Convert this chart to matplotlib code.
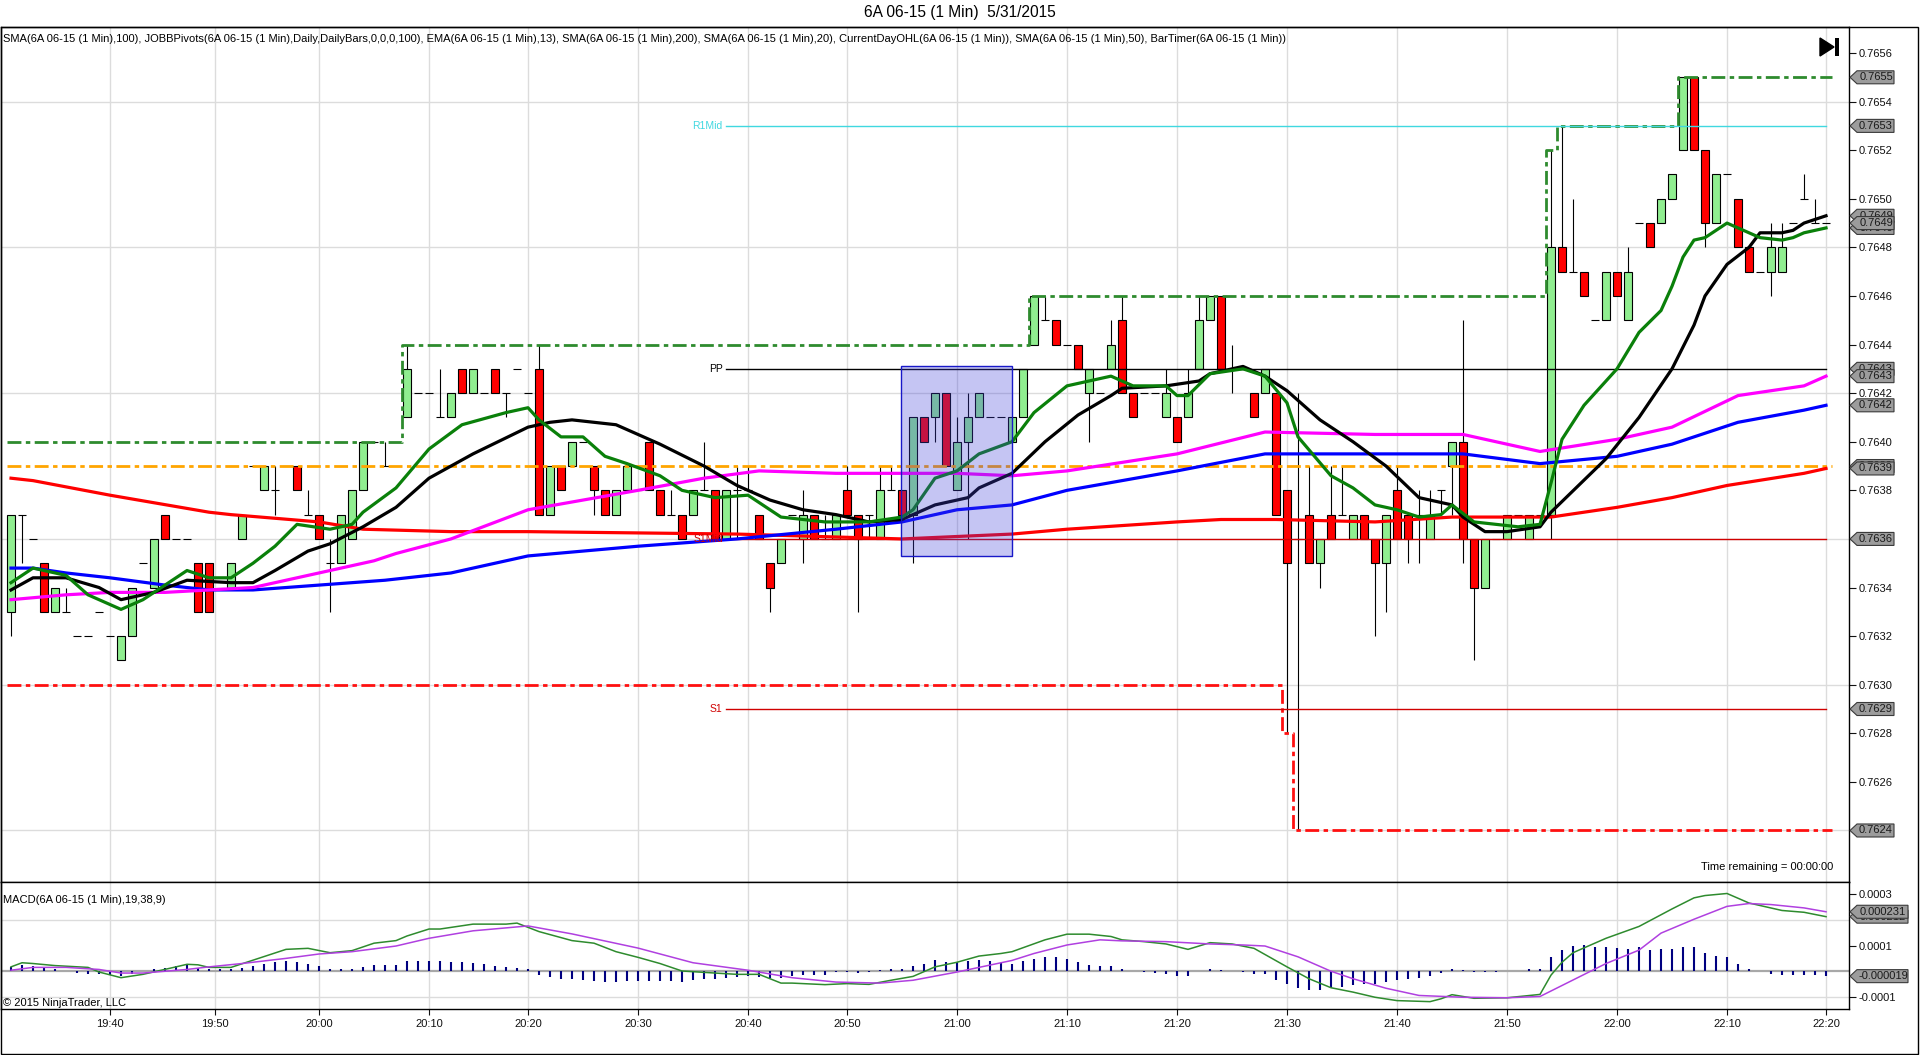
import matplotlib
matplotlib.use("Agg")
import matplotlib.pyplot as plt
import numpy as np
from matplotlib import font_manager
from matplotlib.patches import Rectangle, Polygon

# --------------------------------------------------
# Fonts
# --------------------------------------------------
installed = {f.name for f in font_manager.fontManager.ttflist}
narrow = "Liberation Sans Narrow" if "Liberation Sans Narrow" in installed else "Liberation Sans"
plt.rcParams["font.family"] = ["Liberation Sans", "DejaVu Sans"]

# --------------------------------------------------
# Candles (6A 06-15, 1 min), one entry per bar
# --------------------------------------------------
bar_open = [
    0.7633, 0.7637, 0.7636, 0.7635, 0.7633, 0.7633, 0.7632, 0.7632, 0.7633, 0.7632,
    0.7631, 0.7632, 0.7635, 0.7634, 0.7637, 0.7636, 0.7636, 0.7635, 0.7635, 0.7634,
    0.7634, 0.7636, 0.7639, 0.7638, 0.7638, 0.7639, 0.7639, 0.7637, 0.7637, 0.7635,
    0.7635, 0.7636, 0.7638, 0.7640, 0.7639, 0.7640, 0.7641, 0.7642, 0.7642, 0.7641,
    0.7641, 0.7643, 0.7642, 0.7642, 0.7643, 0.7642, 0.7643, 0.7642, 0.7643, 0.7637,
    0.7639, 0.7639, 0.7640, 0.7639, 0.7638, 0.7637, 0.7638, 0.7638, 0.7640, 0.7638,
    0.7637, 0.7637, 0.7637, 0.7638, 0.7638, 0.7636, 0.7638, 0.7638, 0.7637, 0.7635,
    0.7635, 0.7637, 0.7636, 0.7637, 0.7636, 0.7636, 0.7638, 0.7637, 0.7637, 0.7636,
    0.7638, 0.7638, 0.7637, 0.7641, 0.7641, 0.7642, 0.7638, 0.7640, 0.7641, 0.7641,
    0.7641, 0.7640, 0.7641, 0.7644, 0.7645, 0.7645, 0.7644, 0.7644, 0.7642, 0.7642,
    0.7643, 0.7645, 0.7642, 0.7642, 0.7642, 0.7641, 0.7641, 0.7641, 0.7643, 0.7645,
    0.7646, 0.7643, 0.7643, 0.7642, 0.7642, 0.7642, 0.7638, 0.7636, 0.7637, 0.7635,
    0.7637, 0.7637, 0.7636, 0.7637, 0.7636, 0.7635, 0.7638, 0.7637, 0.7637, 0.7636,
    0.7638, 0.7639, 0.7640, 0.7636, 0.7634, 0.7636, 0.7636, 0.7637, 0.7636, 0.7637,
    0.7637, 0.7648, 0.7647, 0.7647, 0.7645, 0.7645, 0.7647, 0.7645, 0.7649, 0.7649,
    0.7649, 0.7650, 0.7652, 0.7655, 0.7652, 0.7649, 0.7651, 0.7650, 0.7648, 0.7647,
    0.7647, 0.7647, 0.7649, 0.7650, 0.7649, 0.7649,
]
bar_high = [
    0.7637, 0.7637, 0.7636, 0.7635, 0.7634, 0.7634, 0.7632, 0.7632, 0.7633, 0.7632,
    0.7632, 0.7634, 0.7635, 0.7636, 0.7637, 0.7636, 0.7636, 0.7635, 0.7635, 0.7634,
    0.7635, 0.7637, 0.7639, 0.7639, 0.7639, 0.7639, 0.7639, 0.7638, 0.7637, 0.7636,
    0.7637, 0.7638, 0.7640, 0.7640, 0.7640, 0.7640, 0.7644, 0.7642, 0.7642, 0.7643,
    0.7642, 0.7643, 0.7643, 0.7642, 0.7643, 0.7642, 0.7643, 0.7642, 0.7644, 0.7639,
    0.7639, 0.7640, 0.7640, 0.7639, 0.7638, 0.7638, 0.7639, 0.7638, 0.7640, 0.7638,
    0.7638, 0.7637, 0.7638, 0.7640, 0.7638, 0.7638, 0.7639, 0.7639, 0.7637, 0.7635,
    0.7636, 0.7637, 0.7638, 0.7637, 0.7637, 0.7637, 0.7639, 0.7637, 0.7637, 0.7639,
    0.7639, 0.7638, 0.7641, 0.7641, 0.7642, 0.7642, 0.7641, 0.7642, 0.7642, 0.7641,
    0.7641, 0.7641, 0.7643, 0.7646, 0.7646, 0.7645, 0.7644, 0.7644, 0.7643, 0.7642,
    0.7645, 0.7646, 0.7642, 0.7642, 0.7642, 0.7643, 0.7641, 0.7643, 0.7646, 0.7646,
    0.7646, 0.7644, 0.7643, 0.7642, 0.7643, 0.7642, 0.7638, 0.7642, 0.7639, 0.7636,
    0.7639, 0.7639, 0.7637, 0.7637, 0.7636, 0.7637, 0.7639, 0.7637, 0.7638, 0.7638,
    0.7638, 0.7640, 0.7645, 0.7636, 0.7636, 0.7636, 0.7637, 0.7637, 0.7637, 0.7637,
    0.7652, 0.7653, 0.7650, 0.7647, 0.7645, 0.7647, 0.7647, 0.7648, 0.7649, 0.7649,
    0.7650, 0.7651, 0.7655, 0.7655, 0.7652, 0.7651, 0.7651, 0.7650, 0.7648, 0.7647,
    0.7649, 0.7649, 0.7649, 0.7651, 0.7650, 0.7649,
]
bar_low = [
    0.7632, 0.7635, 0.7636, 0.7633, 0.7633, 0.7633, 0.7632, 0.7632, 0.7633, 0.7632,
    0.7631, 0.7632, 0.7635, 0.7634, 0.7636, 0.7636, 0.7636, 0.7633, 0.7633, 0.7634,
    0.7634, 0.7636, 0.7639, 0.7638, 0.7637, 0.7639, 0.7638, 0.7637, 0.7636, 0.7633,
    0.7635, 0.7636, 0.7638, 0.7640, 0.7639, 0.7640, 0.7641, 0.7642, 0.7642, 0.7641,
    0.7641, 0.7642, 0.7642, 0.7642, 0.7642, 0.7641, 0.7643, 0.7642, 0.7637, 0.7637,
    0.7638, 0.7639, 0.7640, 0.7637, 0.7637, 0.7637, 0.7638, 0.7638, 0.7638, 0.7637,
    0.7637, 0.7636, 0.7637, 0.7638, 0.7636, 0.7636, 0.7636, 0.7638, 0.7636, 0.7633,
    0.7635, 0.7637, 0.7635, 0.7636, 0.7636, 0.7636, 0.7637, 0.7633, 0.7636, 0.7636,
    0.7638, 0.7637, 0.7635, 0.7640, 0.7640, 0.7639, 0.7638, 0.7636, 0.7641, 0.7641,
    0.7641, 0.7640, 0.7641, 0.7644, 0.7645, 0.7644, 0.7644, 0.7643, 0.7640, 0.7642,
    0.7643, 0.7642, 0.7641, 0.7642, 0.7642, 0.7641, 0.7640, 0.7641, 0.7643, 0.7645,
    0.7643, 0.7642, 0.7643, 0.7641, 0.7642, 0.7637, 0.7628, 0.7624, 0.7635, 0.7634,
    0.7636, 0.7637, 0.7636, 0.7636, 0.7632, 0.7633, 0.7636, 0.7635, 0.7635, 0.7636,
    0.7637, 0.7637, 0.7635, 0.7631, 0.7634, 0.7636, 0.7636, 0.7637, 0.7636, 0.7637,
    0.7636, 0.7647, 0.7647, 0.7646, 0.7645, 0.7645, 0.7646, 0.7645, 0.7649, 0.7648,
    0.7649, 0.7650, 0.7652, 0.7652, 0.7648, 0.7649, 0.7651, 0.7648, 0.7647, 0.7647,
    0.7646, 0.7647, 0.7649, 0.7650, 0.7649, 0.7649,
]
bar_close = [
    0.7637, 0.7637, 0.7636, 0.7633, 0.7634, 0.7633, 0.7632, 0.7632, 0.7633, 0.7632,
    0.7632, 0.7634, 0.7635, 0.7636, 0.7636, 0.7636, 0.7636, 0.7633, 0.7633, 0.7634,
    0.7635, 0.7637, 0.7639, 0.7639, 0.7638, 0.7639, 0.7638, 0.7637, 0.7636, 0.7635,
    0.7637, 0.7638, 0.7640, 0.7640, 0.7639, 0.7640, 0.7643, 0.7642, 0.7642, 0.7641,
    0.7642, 0.7642, 0.7643, 0.7642, 0.7642, 0.7642, 0.7643, 0.7642, 0.7637, 0.7639,
    0.7638, 0.7640, 0.7640, 0.7638, 0.7637, 0.7638, 0.7639, 0.7638, 0.7638, 0.7637,
    0.7637, 0.7636, 0.7638, 0.7638, 0.7636, 0.7638, 0.7638, 0.7638, 0.7636, 0.7634,
    0.7636, 0.7637, 0.7637, 0.7636, 0.7636, 0.7637, 0.7637, 0.7636, 0.7637, 0.7638,
    0.7638, 0.7637, 0.7641, 0.7640, 0.7642, 0.7639, 0.7640, 0.7641, 0.7642, 0.7641,
    0.7641, 0.7641, 0.7643, 0.7646, 0.7645, 0.7644, 0.7644, 0.7643, 0.7643, 0.7642,
    0.7644, 0.7642, 0.7641, 0.7642, 0.7642, 0.7642, 0.7640, 0.7642, 0.7645, 0.7646,
    0.7643, 0.7643, 0.7643, 0.7641, 0.7643, 0.7637, 0.7635, 0.7636, 0.7635, 0.7636,
    0.7636, 0.7637, 0.7637, 0.7636, 0.7635, 0.7637, 0.7636, 0.7636, 0.7637, 0.7637,
    0.7638, 0.7640, 0.7636, 0.7634, 0.7636, 0.7636, 0.7637, 0.7637, 0.7637, 0.7637,
    0.7648, 0.7647, 0.7647, 0.7646, 0.7645, 0.7647, 0.7646, 0.7647, 0.7649, 0.7648,
    0.7650, 0.7651, 0.7655, 0.7652, 0.7649, 0.7651, 0.7651, 0.7648, 0.7647, 0.7647,
    0.7648, 0.7648, 0.7649, 0.7650, 0.7649, 0.7649,
]

# --------------------------------------------------
# Moving averages (sampled along each line)
# --------------------------------------------------
ema13_idx = [0, 2, 5, 7, 10, 12, 14, 16, 18, 20, 22, 24, 26, 29, 31, 32, 35, 38, 41, 45,
             47, 48, 50, 52, 54, 56, 59, 61, 64, 67, 70, 74, 78, 81, 82, 84, 86, 88, 91, 93,
             96, 98, 100, 102, 105, 106, 107, 109, 112, 114, 116, 117, 120, 122, 124, 126, 128, 130, 131, 133,
             135, 137, 139, 140, 141, 143, 146, 148, 150, 151, 152, 153, 154, 156, 157, 159, 161, 162, 163, 165]
ema13_val = [0.76342, 0.76348, 0.76345, 0.76337, 0.76331, 0.76335, 0.76341, 0.76347, 0.76344, 0.76344,
             0.76350, 0.76357, 0.76366, 0.76364, 0.76366, 0.76371, 0.76381, 0.76397, 0.76407, 0.76412,
             0.76414, 0.76409, 0.76402, 0.76402, 0.76394, 0.76391, 0.76386, 0.76380, 0.76377, 0.76378,
             0.76369, 0.76367, 0.76367, 0.76369, 0.76372, 0.76385, 0.76388, 0.76395, 0.76400, 0.76412,
             0.76423, 0.76425, 0.76427, 0.76423, 0.76423, 0.76419, 0.76419, 0.76428, 0.76430, 0.76427,
             0.76416, 0.76402, 0.76386, 0.76381, 0.76374, 0.76372, 0.76369, 0.76370, 0.76374, 0.76367,
             0.76366, 0.76365, 0.76366, 0.76383, 0.76401, 0.76415, 0.76430, 0.76445, 0.76454, 0.76464,
             0.76476, 0.76483, 0.76484, 0.76490, 0.76488, 0.76484, 0.76483, 0.76484, 0.76486, 0.76488]

sma20_idx = [0, 2, 5, 8, 10, 13, 16, 20, 22, 24, 27, 29, 32, 35, 38, 42, 47, 49, 51, 55,
             59, 63, 66, 69, 72, 75, 78, 81, 82, 84, 87, 88, 91, 94, 97, 100, 101, 105, 108, 109,
             112, 114, 116, 119, 122, 125, 128, 131, 132, 134, 136, 139, 140, 145, 148, 151, 153, 154, 156, 158,
             159, 161, 162, 163, 165]
sma20_val = [0.76339, 0.76344, 0.76344, 0.76340, 0.76335, 0.76338, 0.76343, 0.76342, 0.76342, 0.76347,
             0.76355, 0.76358, 0.76365, 0.76373, 0.76385, 0.76395, 0.76406, 0.76408, 0.76409, 0.76407,
             0.76399, 0.76390, 0.76382, 0.76376, 0.76372, 0.76370, 0.76367, 0.76368, 0.76370, 0.76374,
             0.76377, 0.76381, 0.76387, 0.76400, 0.76411, 0.76419, 0.76422, 0.76423, 0.76425, 0.76428,
             0.76431, 0.76427, 0.76421, 0.76409, 0.76400, 0.76390, 0.76377, 0.76374, 0.76369, 0.76363,
             0.76363, 0.76365, 0.76371, 0.76393, 0.76410, 0.76430, 0.76448, 0.76460, 0.76473, 0.76480,
             0.76486, 0.76486, 0.76487, 0.76490, 0.76493]

sma50_idx = [0, 5, 9, 14, 18, 22, 28, 33, 35, 40, 47, 57, 63, 68, 75, 81, 86, 91, 96, 106,
             114, 124, 132, 139, 146, 151, 157, 163, 165]
sma50_val = [0.76335, 0.76337, 0.76338, 0.76338, 0.76339, 0.76340, 0.76346, 0.76351, 0.76354, 0.76360,
             0.76372, 0.76380, 0.76385, 0.76388, 0.76387, 0.76387, 0.76387, 0.76386, 0.76388, 0.76395,
             0.76404, 0.76403, 0.76403, 0.76396, 0.76401, 0.76406, 0.76419, 0.76423, 0.76427]

sma100_idx = [0, 2, 5, 9, 14, 18, 22, 28, 34, 40, 47, 57, 66, 75, 81, 86, 91, 96, 106, 114,
              122, 132, 139, 146, 151, 157, 163, 165]
sma100_val = [0.76348, 0.76348, 0.76346, 0.76344, 0.76341, 0.76339, 0.76339, 0.76341, 0.76343, 0.76346,
              0.76353, 0.76357, 0.76360, 0.76364, 0.76367, 0.76372, 0.76374, 0.76380, 0.76388, 0.76395,
              0.76395, 0.76395, 0.76391, 0.76394, 0.76399, 0.76408, 0.76413, 0.76415]

sma200_idx = [0, 2, 9, 18, 20, 28, 32, 40, 47, 66, 81, 86, 91, 96, 106, 110, 115, 124, 131, 140,
              146, 151, 156, 163, 165]
sma200_val = [0.76385, 0.76384, 0.76378, 0.76371, 0.76370, 0.76367, 0.76364, 0.76363, 0.76363, 0.76362,
              0.76360, 0.76361, 0.76362, 0.76364, 0.76367, 0.76368, 0.76368, 0.76367, 0.76369, 0.76369,
              0.76373, 0.76377, 0.76382, 0.76387, 0.76389]

# --------------------------------------------------
# Pivots / day levels
# --------------------------------------------------
day_high_x = [-0.4, 35.5, 92.5, 139.5, 140.5, 151.5, 165.5]
day_high_val = [0.7640, 0.7644, 0.7646, 0.7652, 0.7653, 0.7655, 0.7655]
day_low_x = [-0.4, 115.5, 116.5, 165.5]
day_low_val = [0.7630, 0.7628, 0.7624, 0.7624]
prior_close = 0.7639

pivot_names = ["R1Mid", "PP", "S1Mid", "S1"]
pivot_values = [0.7653, 0.7643, 0.7636, 0.7629]
pivot_colors = ["#40d8e0", "black", "#d00000", "#d00000"]
pivot_start, pivot_end = 65, 165

# drawn rectangle (region of interest)
box_x = [80.9, 91.0]
box_y = [0.76353, 0.76431]

# --------------------------------------------------
# MACD(19,38,9), values in units of 0.0001
# --------------------------------------------------
macd_idx = [0, 1, 2, 4, 7, 8, 10, 12, 15, 16, 17, 18, 20, 22, 25, 27, 29, 31, 33, 35,
            36, 38, 39, 42, 45, 46, 48, 51, 53, 55, 57, 59, 61, 64, 66, 68, 70, 71, 74, 76,
            78, 80, 82, 84, 86, 88, 90, 91, 94, 96, 98, 100, 101, 103, 105, 107, 109, 111, 113, 116,
            118, 120, 122, 124, 126, 129, 130, 131, 133, 136, 139, 140, 141, 142, 145, 148, 151, 153, 154, 156,
            158, 161, 163, 165]
macd_val = [0.17, 0.33, 0.30, 0.22, 0.15, -0.03, -0.25, -0.12, 0.17, 0.27,
            0.25, 0.15, 0.15, 0.43, 0.85, 0.89, 0.72, 0.80, 1.09, 1.19,
            1.37, 1.64, 1.64, 1.83, 1.83, 1.87, 1.54, 1.19, 1.09, 0.76,
            0.54, 0.30, 0.01, -0.07, -0.12, -0.12, -0.46, -0.46, -0.52, -0.48,
            -0.51, -0.35, -0.20, 0.17, 0.35, 0.59, 0.69, 0.76, 1.22, 1.44,
            1.44, 1.35, 1.22, 1.15, 1.06, 0.85, 1.11, 1.06, 0.89, 0.17,
            -0.29, -0.64, -0.81, -1.01, -1.14, -1.18, -1.07, -0.91, -1.05, -1.03,
            -0.90, -0.15, 0.35, 0.72, 1.28, 1.74, 2.42, 2.85, 2.94, 3.02,
            2.65, 2.36, 2.29, 2.12]

signal_idx = [0, 2, 5, 8, 10, 12, 16, 18, 21, 25, 28, 31, 35, 38, 42, 47, 51, 57, 62, 67,
              71, 75, 79, 82, 86, 88, 91, 93, 96, 99, 101, 105, 109, 112, 114, 117, 120, 122, 125, 128,
              132, 136, 139, 142, 145, 148, 150, 153, 156, 158, 160, 163, 165]
signal_val = [0.04, 0.15, 0.15, 0.07, -0.07, -0.07, 0.07, 0.17, 0.30, 0.50,
              0.67, 0.76, 0.98, 1.28, 1.57, 1.76, 1.45, 0.90, 0.33, 0.04,
              -0.25, -0.42, -0.46, -0.35, -0.03, 0.15, 0.42, 0.69, 1.02, 1.22,
              1.18, 1.15, 1.06, 1.02, 0.98, 0.56, 0.00, -0.29, -0.66, -0.94,
              -1.01, -1.03, -0.98, -0.34, 0.30, 0.82, 1.48, 2.02, 2.52, 2.63,
              2.59, 2.46, 2.31]

macd_hist = [
    0.17, 0.24, 0.20, 0.14, 0.08, 0.00, -0.07, -0.09, -0.12, -0.16,
    -0.20, -0.09, 0.00, 0.08, 0.14, 0.20, 0.24, 0.13, 0.10, 0.09,
    0.07, 0.14, 0.21, 0.27, 0.35, 0.39, 0.37, 0.30, 0.20, 0.08,
    0.07, 0.09, 0.17, 0.26, 0.26, 0.26, 0.39, 0.41, 0.41, 0.39,
    0.37, 0.35, 0.33, 0.30, 0.20, 0.17, 0.14, 0.08, -0.16, -0.22,
    -0.29, -0.30, -0.33, -0.38, -0.42, -0.41, -0.39, -0.39, -0.39, -0.39,
    -0.39, -0.42, -0.35, -0.31, -0.29, -0.26, -0.22, -0.20, -0.22, -0.25,
    -0.25, -0.20, -0.16, -0.13, -0.13, -0.03, -0.04, -0.07, -0.04, 0.04,
    0.07, 0.09, 0.21, 0.30, 0.42, 0.35, 0.35, 0.39, 0.43, 0.39,
    0.33, 0.30, 0.41, 0.46, 0.54, 0.54, 0.46, 0.37, 0.26, 0.20,
    0.20, 0.08, 0.00, -0.04, -0.07, -0.09, -0.17, -0.17, 0.00, 0.07,
    0.04, 0.00, -0.03, -0.09, -0.12, -0.35, -0.48, -0.64, -0.71, -0.72,
    -0.64, -0.61, -0.52, -0.48, -0.48, -0.42, -0.35, -0.30, -0.25, -0.18,
    -0.07, 0.07, 0.04, -0.04, -0.04, -0.03, 0.00, 0.00, 0.07, 0.09,
    0.54, 0.83, 0.98, 1.02, 0.95, 0.93, 0.89, 0.85, 0.93, 0.83,
    0.85, 0.85, 0.95, 0.93, 0.72, 0.60, 0.54, 0.30, 0.10, 0.00,
    -0.09, -0.13, -0.13, -0.13, -0.13, -0.19,
]

# --------------------------------------------------
# Time axis
# --------------------------------------------------
time_labels = ["19:40", "19:50", "20:00", "20:10", "20:20", "20:30", "20:40", "20:50", "21:00",
               "21:10", "21:20", "21:30", "21:40", "21:50", "22:00", "22:10", "22:20"]
time_pos = [9, 18.5, 28, 38, 47, 57, 67, 76, 86, 96, 106, 116, 126, 136, 146, 156, 165]

indicator_text = ("SMA(6A 06-15 (1 Min),100), JOBBPivots(6A 06-15 (1 Min),Daily,DailyBars,0,0,0,100), "
                  "EMA(6A 06-15 (1 Min),13), SMA(6A 06-15 (1 Min),200), SMA(6A 06-15 (1 Min),20), "
                  "CurrentDayOHL(6A 06-15 (1 Min)), SMA(6A 06-15 (1 Min),50), BarTimer(6A 06-15 (1 Min))")

# --------------------------------------------------
# Figure layout (pixel based, 1920 x 1055)
# --------------------------------------------------
W, H = 1920, 1055
fig = plt.figure(figsize=(W / 100, H / 100), dpi=100)
fig.patch.set_facecolor("white")


def fx(x):
    return x / W


def fy(y):
    return 1 - y / H


ax = fig.add_axes([fx(1), fy(882), 1848 / W, 855 / H])
ax2 = fig.add_axes([fx(1), fy(1009), 1848 / W, 127 / H], sharex=ax)

ax.set_xlim(-0.91, 167.09)
ax.set_ylim(0.762188, 0.765707)
ax2.set_ylim(-0.0001466, 0.0003466)

grid_c = "#dcdcdc"
for t in time_pos:
    ax.axvline(t, color=grid_c, lw=1, zorder=0)
    ax2.axvline(t, color=grid_c, lw=1, zorder=0)
for g in [0.7624, 0.7630, 0.7636, 0.7642, 0.7648, 0.7654]:
    ax.axhline(g, color=grid_c, lw=1, zorder=0)

# --------------------------------------------------
# Candles
# --------------------------------------------------
w = 0.72
for i in range(len(bar_open)):
    o, h, l, c = bar_open[i], bar_high[i], bar_low[i], bar_close[i]
    if h > l:
        ax.vlines(i, l, h, color="black", lw=0.8, zorder=2)
    if round(o, 4) == round(c, 4):
        ax.hlines(o, i - w / 2, i + w / 2, color="black", lw=0.8, zorder=2.1)
    else:
        col = "#90ee90" if c > o else "#ff0000"
        ax.add_patch(Rectangle((i - w / 2, min(o, c)), w, abs(c - o), facecolor=col,
                               edgecolor="black", lw=0.8, zorder=2.1))

# --------------------------------------------------
# Levels
# --------------------------------------------------
dashdot = (0, (5, 1.6, 1.6, 1.6))
ax.plot([-0.4, 165.5], [prior_close, prior_close], color="#ffa500", lw=2, ls=dashdot, zorder=3)
ax.step(day_high_x, day_high_val, where="post", color="#2e8b2e", lw=2, ls=dashdot, zorder=3)
ax.step(day_low_x, day_low_val, where="post", color="#ff1010", lw=2, ls=dashdot, zorder=3)

for name, val, col in zip(pivot_names, pivot_values, pivot_colors):
    ax.plot([pivot_start, pivot_end], [val, val], color=col, lw=1, zorder=3)
    ax.text(pivot_start - 0.3, val, name, color=col, fontsize=7.5, ha="right", va="center", zorder=4.5)

# --------------------------------------------------
# Moving averages
# --------------------------------------------------
ax.plot(sma200_idx, sma200_val, color="#ff0000", lw=2.3, zorder=4)
ax.plot(sma100_idx, sma100_val, color="#0000ff", lw=2.3, zorder=4)
ax.plot(sma50_idx, sma50_val, color="#ff00ff", lw=2.3, zorder=4)
ax.plot(sma20_idx, sma20_val, color="black", lw=2.3, zorder=4)
ax.plot(ema13_idx, ema13_val, color="#0a800a", lw=2.3, zorder=4)

ax.add_patch(Rectangle((box_x[0], box_y[0]), box_x[1] - box_x[0], box_y[1] - box_y[0],
                       facecolor=(0.25, 0.25, 0.85, 0.3), edgecolor="#1818c8", lw=1, zorder=6))

# --------------------------------------------------
# MACD panel
# --------------------------------------------------
for g in [0.0002, -0.0001]:
    ax2.axhline(g, color=grid_c, lw=1, zorder=0)
ax2.axhline(0, color="#a8a8a8", lw=1.6, zorder=1)
ax2.vlines(range(len(macd_hist)), 0, [v * 1e-4 for v in macd_hist], color="#000080", lw=1.5, zorder=2)
ax2.plot(macd_idx, [v * 1e-4 for v in macd_val], color="#2e8b2e", lw=1.1, zorder=3)
ax2.plot(signal_idx, [v * 1e-4 for v in signal_val], color="#b040e0", lw=1.1, zorder=3)

# --------------------------------------------------
# Axes styling
# --------------------------------------------------
price_ticks = np.arange(0.7624, 0.76565, 0.0002)
ax.yaxis.tick_right()
ax.set_yticks(price_ticks)
ax.set_yticklabels([f"{t:.4f}" for t in price_ticks])
ax.tick_params(axis="y", direction="out", length=5, width=0.8, labelsize=8, pad=2, colors="#111111")
ax.tick_params(axis="x", bottom=False, labelbottom=False)

ax2.yaxis.tick_right()
ax2.set_yticks([0.0003, 0.0001, -0.0001])
ax2.set_yticklabels(["0.0003", "0.0001", "-0.0001"])
ax2.tick_params(axis="y", direction="out", length=5, width=0.8, labelsize=8, pad=2, colors="#111111")
ax2.set_xticks(time_pos)
ax2.set_xticklabels(time_labels)
ax2.tick_params(axis="x", direction="out", length=4, width=0.8, labelsize=8, pad=3, colors="#111111")

for a in (ax, ax2):
    for s in a.spines.values():
        s.set_color("black")
        s.set_linewidth(1)

# outer frame
fig.add_artist(Rectangle((fx(1), fy(1054)), 1917 / W, 1027 / H, fill=False,
                         edgecolor="black", lw=1, transform=fig.transFigure, zorder=1))

# --------------------------------------------------
# Texts
# --------------------------------------------------
fig.text(0.5, fy(12), "6A 06-15 (1 Min)  5/31/2015", ha="center", va="center", fontsize=11.2)
fig.text(fx(3), fy(39), indicator_text, ha="left", va="center", fontsize=8, family=narrow)
fig.text(fx(3), fy(900), "MACD(6A 06-15 (1 Min),19,38,9)", ha="left", va="center", fontsize=8, family=narrow)
fig.text(fx(3), fy(1003), "\u00a9 2015 NinjaTrader, LLC", ha="left", va="center", fontsize=8, family=narrow)
fig.text(fx(1833), fy(867), "Time remaining = 00:00:00", ha="right", va="center", fontsize=8, family=narrow)

# bar timer icon
fig.add_artist(Polygon([(fx(1820), fy(38)), (fx(1834), fy(47)), (fx(1820), fy(56))], closed=True,
                       facecolor="black", edgecolor="black", transform=fig.transFigure, zorder=5))
fig.add_artist(Rectangle((fx(1835), fy(56)), 4 / W, 18 / H, facecolor="black",
                         edgecolor="none", transform=fig.transFigure, zorder=5))

# --------------------------------------------------
# Right axis value tags
# --------------------------------------------------
tag_z = [10]


def tag(axis, value, text, right=1894):
    yf = axis.transData.transform((0, value))[1] / fig.bbox.height
    hh = 6.5 / H
    pts = [(fx(1850), yf), (fx(1857), yf + hh), (fx(right), yf + hh),
           (fx(right), yf - hh), (fx(1857), yf - hh)]
    fig.add_artist(Polygon(pts, closed=True, transform=fig.transFigure, facecolor="#9c9c9c",
                           edgecolor="#3a3a3a", lw=0.8, zorder=tag_z[0]))
    fig.text(fx((1857 + right) / 2 + 0.5), yf, text, ha="center", va="center", fontsize=8,
             color="#1a1a1a", zorder=tag_z[0] + 0.5)
    tag_z[0] += 1


main_tags = [(0.7655, "0.7655"), (0.7653, "0.7653"), (0.76493, "0.7649"), (0.76488, "0.7649"),
             (0.7649, "0.7649"), (0.7643, "0.7643"), (0.76427, "0.7643"), (0.76415, "0.7642"),
             (0.7639, "0.7639"), (0.76389, "0.7639"), (0.7636, "0.7636"), (0.7629, "0.7629"),
             (0.7624, "0.7624")]
for v, t in main_tags:
    tag(ax, v, t)

macd_tags = [(0.000212, "0.000212"), (0.000231, "0.000231"), (-0.000019, "-0.000019")]
for v, t in macd_tags:
    tag(ax2, v, t, right=1908)

fig.savefig("out.png", dpi=100)
